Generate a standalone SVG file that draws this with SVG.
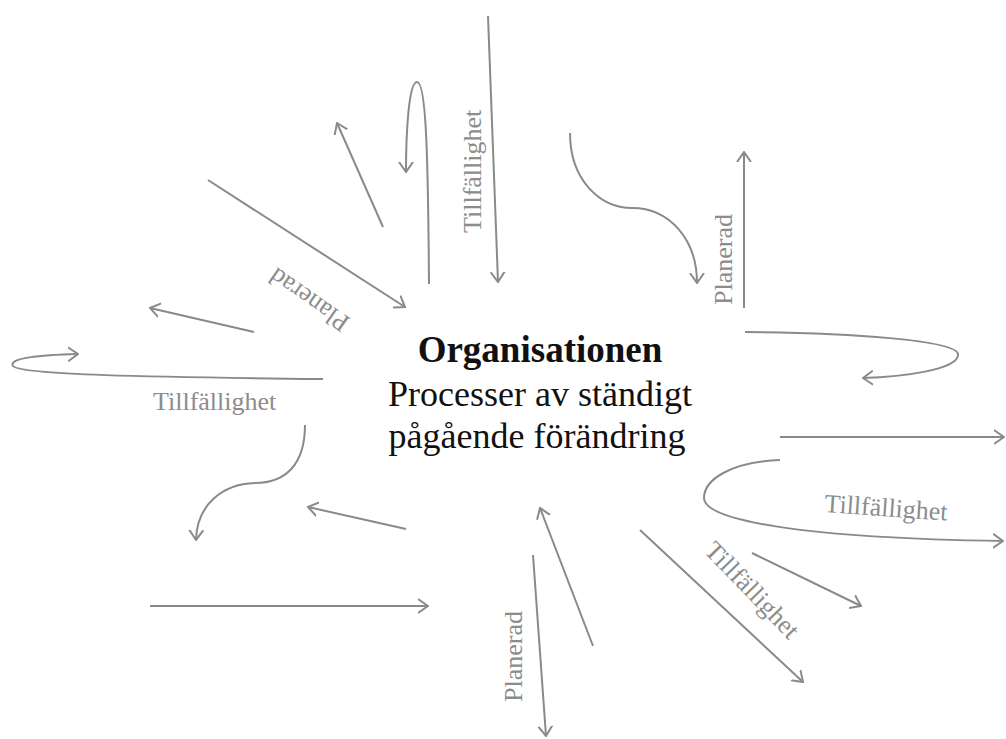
<svg xmlns="http://www.w3.org/2000/svg" width="1006" height="739" viewBox="0 0 1006 739">
<style>
.c{fill:none;stroke:#8a8a8a;stroke-width:2;marker-end:url(#ah)}
.lbl{font-family:"Liberation Serif",serif;font-size:26px;fill:#8c8c8c}
.ctr{font-family:"Liberation Serif",serif;fill:#111;text-anchor:middle}
</style>
<defs>
<marker id="ah" viewBox="0 0 11 16" refX="10" refY="8" markerWidth="11" markerHeight="16" markerUnits="userSpaceOnUse" orient="auto">
<path d="M0,1 L10,8 L0,15" fill="none" stroke="#8a8a8a" stroke-width="2"/>
</marker>
</defs>
<rect width="1006" height="739" fill="#fff"/>
<g id="connectors">
<path class="c" d="M488,16 L498,282"/>
<path class="c" d="M429,284 C428,150 426,82 417,82 C409,82 406,130 406,172"/>
<path class="c" d="M383,227 L337,123"/>
<path class="c" d="M208,180 L405,307"/>
<path class="c" d="M254,332 L150,308"/>
<path class="c" d="M323,379 C150,377 20,375 13,366 C8,358 40,355 78,354"/>
<path class="c" d="M305,425 C305,465 285,483 255,483 C222,484 197,505 196,540"/>
<path class="c" d="M406,529 L308,507"/>
<path class="c" d="M150,606 L428,606"/>
<path class="c" d="M593,646 L540,508"/>
<path class="c" d="M533,555 L546,736"/>
<path class="c" d="M570,133 C570,180 600,208 632,208 C670,208 697,240 697,283"/>
<path class="c" d="M744,308 L744,152"/>
<path class="c" d="M745,332 C850,333 955,340 958,354 C960,370 900,377 863,378"/>
<path class="c" d="M780,437 L1004,437"/>
<path class="c" d="M780,460 C730,462 704,480 704,498 C704,520 800,538 1003,541"/>
<path class="c" d="M640,530 L803,682"/>
<path class="c" d="M752,553 L861,606"/>
</g>
<g id="labels">
<text class="lbl" transform="translate(481,233) rotate(-90)">Tillfällighet</text>
<text class="lbl" text-anchor="middle" transform="translate(314,293) rotate(215)">Planerad</text>
<text class="lbl" x="153" y="410">Tillfällighet</text>
<text class="lbl" transform="translate(522,702) rotate(-90)">Planerad</text>
<text class="lbl" transform="translate(732,305) rotate(-90)">Planerad</text>
<text class="lbl" transform="translate(824,512) rotate(4)">Tillfällighet</text>
<text class="lbl" text-anchor="middle" transform="translate(746,596) rotate(46)">Tillfällighet</text>
</g>
<g id="center">
<text class="ctr" x="540" y="362" font-size="37" font-weight="bold">Organisationen</text>
<text class="ctr" x="540" y="406" font-size="36">Processer av ständigt</text>
<text class="ctr" x="537" y="448" font-size="36">pågående förändring</text>
</g>
</svg>
